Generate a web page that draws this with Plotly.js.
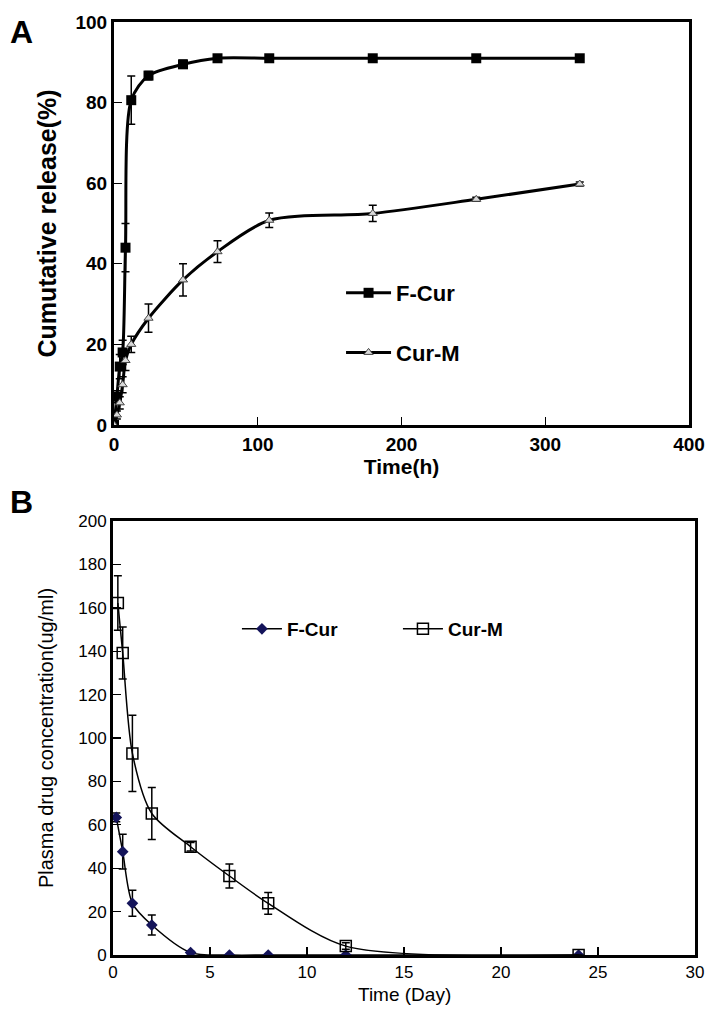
<!DOCTYPE html>
<html>
<head>
<meta charset="utf-8">
<script src="https://cdn.plot.ly/plotly-3.0.1.min.js"></script>
<style>
  html, body { margin: 0; padding: 0; background: #fff; }
  #chart { width: 718px; height: 1019px; }
</style>
</head>
<body>
<div id="chart"></div>
<script>
// Panel A - in vitro release (hours)
const timeA = [0, 2, 4, 6, 8, 12, 24, 48, 72, 108, 180, 252, 324];
const fCurA = [0, 7, 14.5, 18, 44, 80.6, 86.7, 89.5, 91, 91, 91, 91, 91];
const fCurAErr = [0, 1.5, 3, 3, 6, 6, 1, 1, 0.5, 0.5, 0.5, 0.5, 0.5];
const curMA = [0, 2.5, 5.5, 10, 16, 20, 26.5, 36, 43, 50.8, 52.5, 56, 59.8];
const curMAErr = [0, 1, 1.5, 2, 2.5, 2, 3.5, 4, 2.7, 1.8, 2, 0.5, 0.5];

// Panel B - plasma concentration (days)
const timeBF = [0.17, 0.5, 1, 2, 4, 6, 8, 12, 24];
const fCurB = [63.4, 47.6, 23.8, 13.8, 1.1, 0, 0, 0, 0];
const fCurBErr = [2, 8, 6, 4.6, 0.5, 0, 0, 0, 0];
const timeBM = [0.25, 0.5, 1, 2, 4, 6, 8, 12, 24];
const curMB = [162.2, 139.2, 92.9, 65.2, 49.9, 36.4, 23.8, 4.1, 0];
const curMBErr = [12.6, 12, 17.6, 12, 2, 5.5, 5, 1.5, 0];

const boldFont = 'Liberation Sans, Arial, sans-serif';
const W = 718, H = 1019;
const px = (a, b) => [a / W, b / W];
const py = (top, bottom) => [1 - bottom / H, 1 - top / H];

function errBar(arr) {
  return { type: 'data', array: arr, visible: true, color: '#000', thickness: 1.5, width: 4 };
}

const traces = [
  {
    x: timeA, y: fCurA, name: 'F-Cur', xaxis: 'x', yaxis: 'y',
    mode: 'lines+markers', legendgroup: 'a1',
    line: { color: '#000', width: 3, shape: 'spline', smoothing: 0.8 },
    marker: { symbol: 'square', size: 10, color: '#000' },
    error_y: errBar(fCurAErr)
  },
  {
    x: timeA, y: curMA, name: 'Cur-M', xaxis: 'x', yaxis: 'y',
    mode: 'lines+markers', legendgroup: 'a2',
    line: { color: '#000', width: 3, shape: 'spline', smoothing: 0.8 },
    marker: { symbol: 'triangle-up', size: 8, color: '#d8d8d8', line: { color: '#444', width: 1 } },
    error_y: errBar(curMAErr)
  },
  {
    x: timeBF, y: fCurB, name: 'F-Cur', xaxis: 'x2', yaxis: 'y2', legend: 'legend2',
    mode: 'lines+markers',
    line: { color: '#000', width: 1.5, shape: 'spline', smoothing: 0.8 },
    marker: { symbol: 'diamond', size: 9, color: '#14145a' },
    error_y: errBar(fCurBErr)
  },
  {
    x: timeBM, y: curMB, name: 'Cur-M', xaxis: 'x2', yaxis: 'y2', legend: 'legend2',
    mode: 'lines+markers',
    line: { color: '#000', width: 1.5, shape: 'spline', smoothing: 0.8 },
    marker: { symbol: 'square-open', size: 11, color: '#000', line: { width: 1.5 } },
    error_y: errBar(curMBErr)
  }
];

function axisStyle(extra) {
  return Object.assign({
    showline: true, mirror: true, linecolor: '#000', linewidth: 3,
    ticks: 'inside', ticklen: 8, tickwidth: 1.2, tickcolor: '#000',
    showgrid: false, zeroline: false, fixedrange: true
  }, extra);
}

const layout = {
  width: W, height: H,
  margin: { l: 0, r: 0, t: 0, b: 0 },
  paper_bgcolor: '#fff', plot_bgcolor: '#fff',
  showlegend: true,
  xaxis: axisStyle({
    domain: px(114, 689), anchor: 'y', range: [0, 400], dtick: 100,
    tickfont: { family: boldFont, size: 19, color: '#000', weight: 'bold' },
    title: { text: 'Time(h)', standoff: 0, font: { family: boldFont, size: 21, color: '#000', weight: 'bold' } }
  }),
  yaxis: axisStyle({
    domain: py(22, 425), anchor: 'x', range: [0, 100], dtick: 20,
    tickfont: { family: boldFont, size: 19, color: '#000', weight: 'bold' },
    title: { text: 'Cumutative release(%)', standoff: 12, font: { family: boldFont, size: 25, color: '#000', weight: 'bold' } }
  }),
  xaxis2: axisStyle({
    domain: px(113, 695), anchor: 'y2', range: [0, 30], dtick: 5,
    tickfont: { family: boldFont, size: 17, color: '#000' }
  }),
  yaxis2: axisStyle({
    domain: py(521, 955), anchor: 'x2', range: [0, 200], dtick: 20,
    tickfont: { family: boldFont, size: 17, color: '#000' },
    title: { text: 'Plasma drug concentration(ug/ml)', standoff: 20, font: { family: boldFont, size: 20, color: '#000' } }
  }),
  legend: {
    x: 0.475, y: 1 - 272 / H, xanchor: 'left', yanchor: 'top',
    traceorder: 'grouped', tracegroupgap: 28, itemwidth: 45, bgcolor: 'rgba(0,0,0,0)',
    font: { family: boldFont, size: 22, color: '#000', weight: 'bold' }
  },
  legend2: {
    orientation: 'h', x: 0.33, y: 1 - 610 / H, xanchor: 'left', yanchor: 'top',
    entrywidth: 106, itemwidth: 40, bgcolor: 'rgba(0,0,0,0)',
    font: { family: boldFont, size: 19, color: '#000', weight: 'bold' }
  },
  annotations: [
    { text: 'A', x: 8 / W, y: 1 - 12 / H, xref: 'paper', yref: 'paper', xanchor: 'left', yanchor: 'top', showarrow: false,
      font: { family: boldFont, size: 32, color: '#000', weight: 'bold' } },
    { text: 'B', x: 8 / W, y: 1 - 482 / H, xref: 'paper', yref: 'paper', xanchor: 'left', yanchor: 'top', showarrow: false,
      font: { family: boldFont, size: 32, color: '#000', weight: 'bold' } },
    { text: 'Time (Day)', x: 15, xref: 'x2', y: 1 - 994 / H, yref: 'paper', xanchor: 'center', yanchor: 'middle', showarrow: false,
      font: { family: boldFont, size: 19, color: '#000' } }
  ]
};

Plotly.newPlot('chart', traces, layout, { displayModeBar: false, staticPlot: true });
</script>
</body>
</html>
